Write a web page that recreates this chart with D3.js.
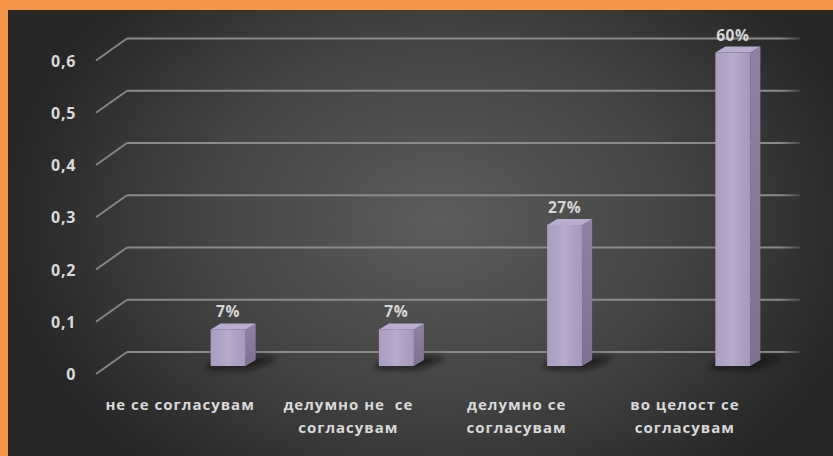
<!DOCTYPE html>
<html>
<head>
<meta charset="utf-8">
<script src="https://cdn.jsdelivr.net/npm/d3@7"></script>
<style>
html,body{margin:0;padding:0;background:#f79646;}
svg{display:block;}
</style>
</head>
<body>
<svg id="chart" width="833" height="456"></svg>
<script>
// ---- data ----
const categories = ["не се согласувам", "делумно не  се согласувам", "делумно се согласувам", "во целост се согласувам"];
const categoryLines = [["не се согласувам"], ["делумно не  се", "согласувам"], ["делумно се", "согласувам"], ["во целост се", "согласувам"]];
const values = [0.07, 0.07, 0.27, 0.60];
const valueLabels = ["7%", "7%", "27%", "60%"];
const tickValues = [0, 0.1, 0.2, 0.3, 0.4, 0.5, 0.6];
const tickLabels = ["0", "0,1", "0,2", "0,3", "0,4", "0,5", "0,6"];

// ---- layout ----
const W = 833, H = 456;
const svg = d3.select("#chart");
const defs = svg.append("defs");

const bg = defs.append("radialGradient").attr("id", "bg")
  .attr("gradientUnits", "userSpaceOnUse")
  .attr("cx", 440).attr("cy", 220).attr("r", 430)
  .attr("gradientTransform", "translate(440,220) scale(1,0.75) translate(-440,-220)");
bg.append("stop").attr("offset", "0%").attr("stop-color", "#5c5c5c");
bg.append("stop").attr("offset", "55%").attr("stop-color", "#444444");
bg.append("stop").attr("offset", "100%").attr("stop-color", "#272727");

const front = defs.append("linearGradient").attr("id", "front").attr("x1", 0).attr("x2", 1).attr("y1", 0).attr("y2", 0);
front.append("stop").attr("offset", "0%").attr("stop-color", "#aa9dc0");
front.append("stop").attr("offset", "50%").attr("stop-color", "#b7abcb");
front.append("stop").attr("offset", "100%").attr("stop-color", "#a597bb");
const side = defs.append("linearGradient").attr("id", "side").attr("x1", 0).attr("x2", 0).attr("y1", 0).attr("y2", 1);
side.append("stop").attr("offset", "0%").attr("stop-color", "#8f83a5");
side.append("stop").attr("offset", "100%").attr("stop-color", "#7d7190");
const fadeR = defs.append("linearGradient").attr("id", "fadeR")
  .attr("gradientUnits", "userSpaceOnUse").attr("x1", 780).attr("x2", 802).attr("y1", 0).attr("y2", 0);
fadeR.append("stop").attr("offset", "0%").attr("stop-color", "#8a8a8a");
fadeR.append("stop").attr("offset", "100%").attr("stop-color", "#8a8a8a").attr("stop-opacity", 0.2);
defs.append("filter").attr("id", "blur").attr("x", "-50%").attr("y", "-50%").attr("width", "200%").attr("height", "200%")
  .append("feGaussianBlur").attr("stdDeviation", 3);

// background (orange border visible top and left)
svg.append("rect").attr("x", 8).attr("y", 10).attr("width", W - 8).attr("height", H - 10).attr("fill", "url(#bg)");

const x = d3.scaleBand().domain(categories).range([127, 800]);
const y = d3.scaleLinear().domain([0, 0.6]).range([352, 38.5]);
const depthX = -31, depthY = 22;     // wall-to-front floor offset
const barW = 35, barDX = 10, barDY = -6, barShift = 17, barDrop = 14;

// gridlines
const grid = svg.append("g");
tickValues.forEach(t => {
  const yy = y(t);
  grid.append("path")
    .attr("d", `M127,${yy} L800,${yy}`)
    .attr("fill", "none").attr("stroke", "url(#fadeR)").attr("stroke-width", 2);
  grid.append("line").attr("x1", 127 + depthX).attr("y1", yy + depthY).attr("x2", 127).attr("y2", yy)
    .attr("stroke", "#858585").attr("stroke-width", 2);
});

// tick labels
svg.append("g").selectAll("text").data(tickValues).join("text")
  .attr("x", 76).attr("y", d => y(d) + depthY + 6)
  .attr("text-anchor", "end")
  .attr("font-family", "Open Sans, sans-serif").attr("font-weight", "bold").attr("font-size", 16)
  .attr("letter-spacing", 0.7)
  .attr("fill", "#d9d9d9")
  .text((d, i) => tickLabels[i]);

// bars
const bars = svg.append("g");
categories.forEach((c, i) => {
  const cx = x(c) + x.bandwidth() / 2 + barShift;
  const x0 = cx - barW / 2, x1 = cx + barW / 2;
  const yb = y(0) + barDrop, yt = y(values[i]) + barDrop;
  // shadow
  bars.append("path")
    .attr("d", `M${x0 - 6},${yb + 2} L${x1 + 4},${yb + 3} L${x1 + barDX + 22},${yb - 8} L${x1 + barDX + 6},${yb - 10} L${x0 + 2},${yb - 4} Z`)
    .attr("fill", "#111").attr("opacity", 0.75).attr("filter", "url(#blur)");
  // side
  bars.append("path")
    .attr("d", `M${x1},${yt} L${x1 + barDX},${yt + barDY} L${x1 + barDX},${yb + barDY} L${x1},${yb} Z`)
    .attr("fill", "url(#side)");
  // top
  bars.append("path")
    .attr("d", `M${x0},${yt} L${x0 + barDX},${yt + barDY} L${x1 + barDX},${yt + barDY} L${x1},${yt} Z`)
    .attr("fill", "#b9add0");
  // front
  bars.append("rect").attr("x", x0).attr("y", yt).attr("width", barW).attr("height", yb - yt)
    .attr("fill", "url(#front)");
  // value label
  bars.append("text")
    .attr("x", cx).attr("y", yt - 12)
    .attr("text-anchor", "middle")
    .attr("font-family", "Open Sans, sans-serif").attr("font-weight", "bold").attr("font-size", 15.5)
    .attr("letter-spacing", 0.6)
    .attr("fill", "#d6d6d6")
    .text(valueLabels[i]);
});

// category labels
const cat = svg.append("g");
categories.forEach((c, i) => {
  const cx = x(c) + x.bandwidth() / 2 + depthX;
  categoryLines[i].forEach((line, j) => {
    cat.append("text")
      .attr("x", cx).attr("y", 410 + j * 23)
      .attr("text-anchor", "middle")
      .attr("font-family", "Open Sans, sans-serif").attr("font-weight", "bold").attr("font-size", 15)
      .attr("letter-spacing", 1)
      .style("white-space", "pre")
      .attr("fill", "#d9d9d9")
      .text(line);
  });
});
</script>
</body>
</html>
